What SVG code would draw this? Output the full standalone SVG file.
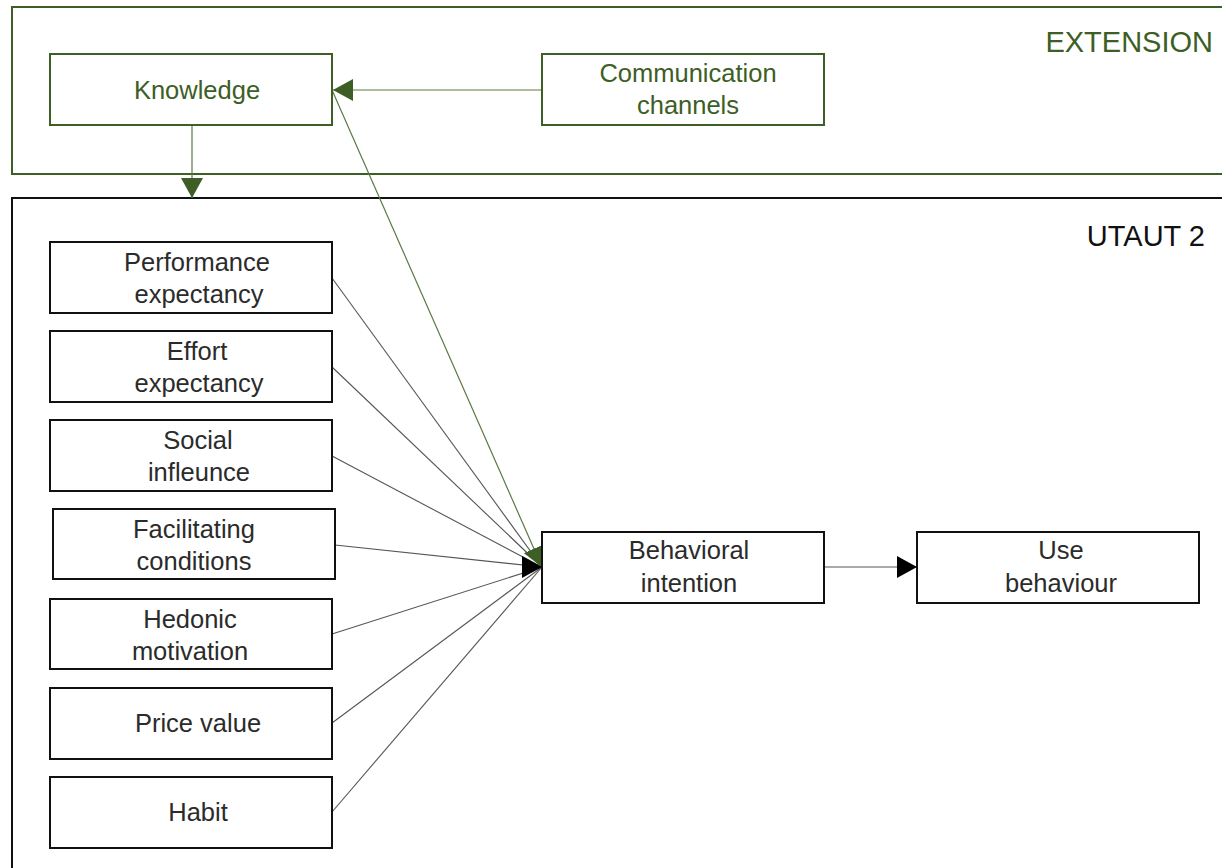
<svg xmlns="http://www.w3.org/2000/svg" width="1222" height="868" viewBox="0 0 1222 868">
<defs>
<style>
.t{font-family:"Liberation Sans",Arial,sans-serif;font-size:25.5px;fill:#2b2b2b;text-anchor:middle}
.g{fill:#3d5e24}
.box{fill:#fff;stroke:#111;stroke-width:2}
.gbox{fill:#fff;stroke:#3d5e24;stroke-width:2}
.ln{stroke:#555;stroke-width:1.1;fill:none}
.gln{stroke:#5a7a45;stroke-width:1.2;fill:none}
.hdr{font-family:"Liberation Sans",Arial,sans-serif;font-size:29px;text-anchor:end}
</style>
<marker id="ab" markerWidth="20" markerHeight="22" refX="20" refY="11" orient="auto" markerUnits="userSpaceOnUse"><path d="M0,0 L20,11 L0,22 Z" fill="#000"/></marker>
<marker id="ag" markerWidth="20" markerHeight="22" refX="20" refY="11" orient="auto" markerUnits="userSpaceOnUse"><path d="M0,0 L20,11 L0,22 Z" fill="#3d5e24"/></marker>
</defs>
<rect width="1222" height="868" fill="#fff"/>
<g id="extension">
<rect x="12" y="7" width="1230" height="167" fill="none" stroke="#3d5e24" stroke-width="2"/>
<text class="hdr g" x="1213" y="52">EXTENSION</text>
</g>
<g id="utaut2">
<rect x="12" y="198" width="1230" height="700" fill="none" stroke="#111" stroke-width="2"/>
<text class="hdr" x="1205" y="246" fill="#111">UTAUT 2</text>
</g>
<g id="connectors">
<line class="gln" x1="542" y1="90" x2="333" y2="90" marker-end="url(#ag)"/>
<line class="gln" x1="192" y1="125" x2="192" y2="198" marker-end="url(#ag)"/>
<line class="ln" x1="332" y1="278" x2="542" y2="567"/>
<line class="ln" x1="332" y1="367" x2="542" y2="567"/>
<line class="ln" x1="332" y1="456" x2="542" y2="567"/>
<line class="ln" x1="335" y1="545" x2="542" y2="567"/>
<line class="ln" x1="332" y1="634" x2="542" y2="567"/>
<line class="ln" x1="332" y1="723" x2="542" y2="567"/>
<line class="ln" x1="332" y1="812" x2="542" y2="567"/>
<line class="gln" x1="332" y1="90" x2="542" y2="567" marker-end="url(#ag)"/>
<line class="ln" x1="522" y1="567" x2="542" y2="567" marker-end="url(#ab)"/>
<line class="ln" x1="824" y1="567" x2="917" y2="567" stroke="#111" marker-end="url(#ab)"/>
</g>
<g id="knowledge">
<rect class="gbox" x="50" y="54" width="282" height="71"/>
<text class="t g" x="197" y="99">Knowledge</text>
</g>
<g id="communication">
<rect class="gbox" x="542" y="54" width="282" height="71"/>
<text class="t g" x="688" y="82">Communication</text>
<text class="t g" x="688" y="114">channels</text>
</g>
<g id="performance">
<rect class="box" x="50" y="242" width="282" height="71"/>
<text class="t" x="197" y="271">Performance</text>
<text class="t" x="199" y="303">expectancy</text>
</g>
<g id="effort">
<rect class="box" x="50" y="331" width="282" height="71"/>
<text class="t" x="197" y="360">Effort</text>
<text class="t" x="199" y="392">expectancy</text>
</g>
<g id="social">
<rect class="box" x="50" y="420" width="282" height="71"/>
<text class="t" x="198" y="449">Social</text>
<text class="t" x="199" y="481">infleunce</text>
</g>
<g id="facilitating">
<rect class="box" x="53" y="509" width="282" height="70"/>
<text class="t" x="194" y="538">Facilitating</text>
<text class="t" x="194" y="570">conditions</text>
</g>
<g id="hedonic">
<rect class="box" x="50" y="599" width="282" height="70"/>
<text class="t" x="190" y="628">Hedonic</text>
<text class="t" x="190" y="660">motivation</text>
</g>
<g id="price">
<rect class="box" x="50" y="688" width="282" height="71"/>
<text class="t" x="198" y="732">Price value</text>
</g>
<g id="habit">
<rect class="box" x="50" y="777" width="282" height="71"/>
<text class="t" x="198" y="821">Habit</text>
</g>
<g id="behavioral">
<rect class="box" x="542" y="532" width="282" height="71"/>
<text class="t" x="689" y="559">Behavioral</text>
<text class="t" x="689" y="592">intention</text>
</g>
<g id="use">
<rect class="box" x="917" y="532" width="282" height="71"/>
<text class="t" x="1061" y="559">Use</text>
<text class="t" x="1061" y="592">behaviour</text>
</g>
</svg>
